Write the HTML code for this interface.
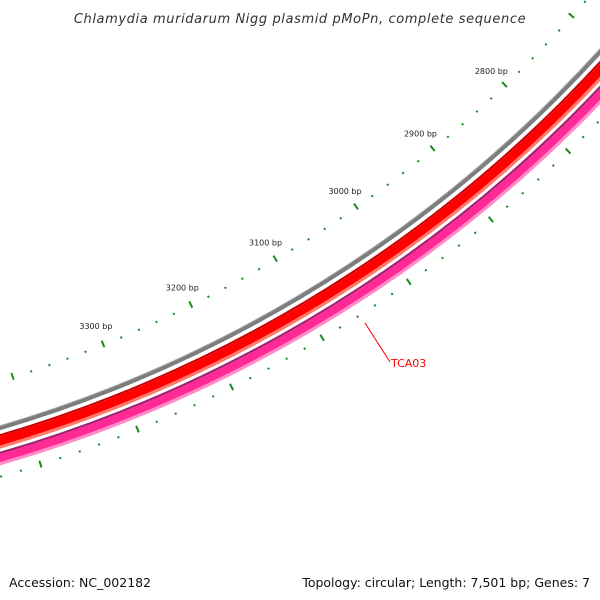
<!DOCTYPE html>
<html><head><meta charset="utf-8"><style>
body{margin:0;background:#fff}
svg{display:block;font-family:"DejaVu Sans","Liberation Sans",sans-serif}
</style></head><body>
<svg id="map" width="600" height="600" viewBox="0 0 600 600" xmlns="http://www.w3.org/2000/svg">
<text x="300" y="23" text-anchor="middle" font-size="13" font-style="italic" fill="#333" letter-spacing="0.6">Chlamydia muridarum Nigg plasmid pMoPn, complete sequence</text>
<g id="rings"></g>
<g id="ticks"></g>
<line x1="365" y1="323" x2="390" y2="362" stroke="#ff0000" stroke-width="1"/>
<text x="391" y="367" font-size="11" fill="#ff0000">TCA03</text>
<text x="9" y="587" font-size="12.5" fill="#111">Accession: NC_002182</text>
<text x="590" y="587" text-anchor="end" font-size="12.5" fill="#111">Topology: circular; Length: 7,501 bp; Genes: 7</text>
</svg>
<script>
const tickStart = 2400;
const tickEnd = 3700;
const minorStep = 20;
const majorStep = 100;
const labelBps = [2800, 2900, 3000, 3100, 3200, 3300];
const NS='http://www.w3.org/2000/svg';
const cx=-371, cy=-830.6;
function ang(bp){return (54.97+(bp-3000)*0.0435)*Math.PI/180;}
function pt(bp,r){const a=ang(bp);return [cx+r*Math.cos(a), cy+r*Math.sin(a)];}
const rings=document.getElementById('rings');
const bands=[
 ['backbone-ring',1312,4.5,'#7d7d7d'],
 ['backbone-ring-edge',1310,1,'#a8a8a8'],
 ['gene-band-red-edge',1319,2,'#c80000'],
 ['gene-band-red',1324.5,9,'#ff0000'],
 ['gene-band-red-light',1330.5,3,'#ff7a6a'],
 ['gene-band-pink-edge',1336,2.2,'#a0206f'],
 ['gene-band-pink',1341,8,'#ff2a96'],
 ['gene-band-pink-light',1346.5,3,'#ff8cc8']
];
bands.forEach(b=>{
 const c=document.createElementNS(NS,'circle');
 
 
 c.setAttribute('cx',cx);c.setAttribute('cy',cy);c.setAttribute('r',b[1]);
 c.setAttribute('fill','none');c.setAttribute('stroke',b[3]);c.setAttribute('stroke-width',b[2]);
 rings.appendChild(c);
});
const ticks=document.getElementById('ticks');
function tick(bp,r1,r2,name){
 const [x1,y1]=pt(bp,r1),[x2,y2]=pt(bp,r2);
 const l=document.createElementNS(NS,'line');
 
 
 l.setAttribute('x1',x1);l.setAttribute('y1',y1);l.setAttribute('x2',x2);l.setAttribute('y2',y2);
 l.setAttribute('stroke','#1a8a1a');l.setAttribute('stroke-width','2');
 ticks.appendChild(l);
}
for(let bp=tickStart;bp<=tickEnd;bp+=minorStep){
 const major=bp%majorStep===0;
 if(major){tick(bp,1263,1270,'inner-major-tick');tick(bp,1355,1362,'outer-major-tick');}
 else{tick(bp,1266.5,1268.5,'inner-minor-tick');tick(bp,1358,1360,'outer-minor-tick');}
}
labelBps.forEach(bp=>{
 const [x,y]=pt(bp,1247.5);
 const t=document.createElementNS(NS,'text');
 
 
 t.setAttribute('x',x);t.setAttribute('y',y+3);t.setAttribute('text-anchor','middle');
 t.setAttribute('font-size','8');t.setAttribute('fill','#222');
 t.textContent=bp+' bp';
 ticks.appendChild(t);
});
</script>
</body></html>
